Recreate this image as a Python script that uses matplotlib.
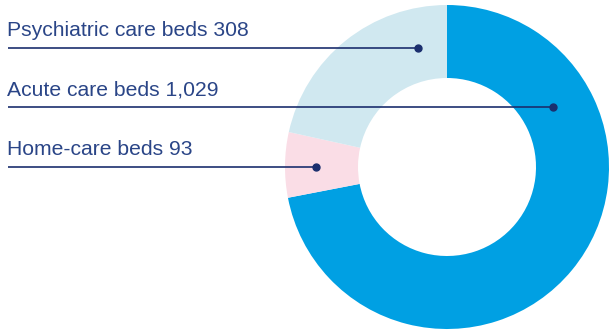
import matplotlib

matplotlib.use('Agg')
import matplotlib.pyplot as plt

# bed counts, in the order the ring is drawn (clockwise from 12 o'clock)
labels = ['Acute care beds 1,029', 'Home-care beds 93', 'Psychiatric care beds 308']
values = [1029, 93, 308]
colors = ['#00a0e3', '#fadde6', '#d0e8f0']

# label rows, top to bottom: (label index, line y, dot x) in pixel layout
rows = [(2, 48, 418), (0, 107, 553), (1, 167, 316)]

W, H = 609, 332
navy = '#1b2f6e'
text_color = '#2a4587'

fig = plt.figure(figsize=(W / 100, H / 100), dpi=100)
ax = fig.add_axes([0, 0, 1, 1])

ax.pie(values, colors=colors, startangle=90, counterclock=False,
       center=(447, H - 167), radius=162, frame=True,
       wedgeprops=dict(width=73, linewidth=0))

for idx, y, dot_x in rows:
    yy = H - y
    ax.plot([8, dot_x], [yy, yy], color=navy, linewidth=1.2, solid_capstyle='butt')
    ax.plot(dot_x, yy, 'o', color=navy, markersize=5)
    ax.text(7, yy + 12, labels[idx], fontsize=15.2, color=text_color,
            family='Liberation Sans', va='baseline', ha='left')

ax.set_xlim(0, W)
ax.set_ylim(0, H)
ax.set_aspect('equal')
ax.axis('off')

plt.savefig('out.png', dpi=100)
plt.close()
